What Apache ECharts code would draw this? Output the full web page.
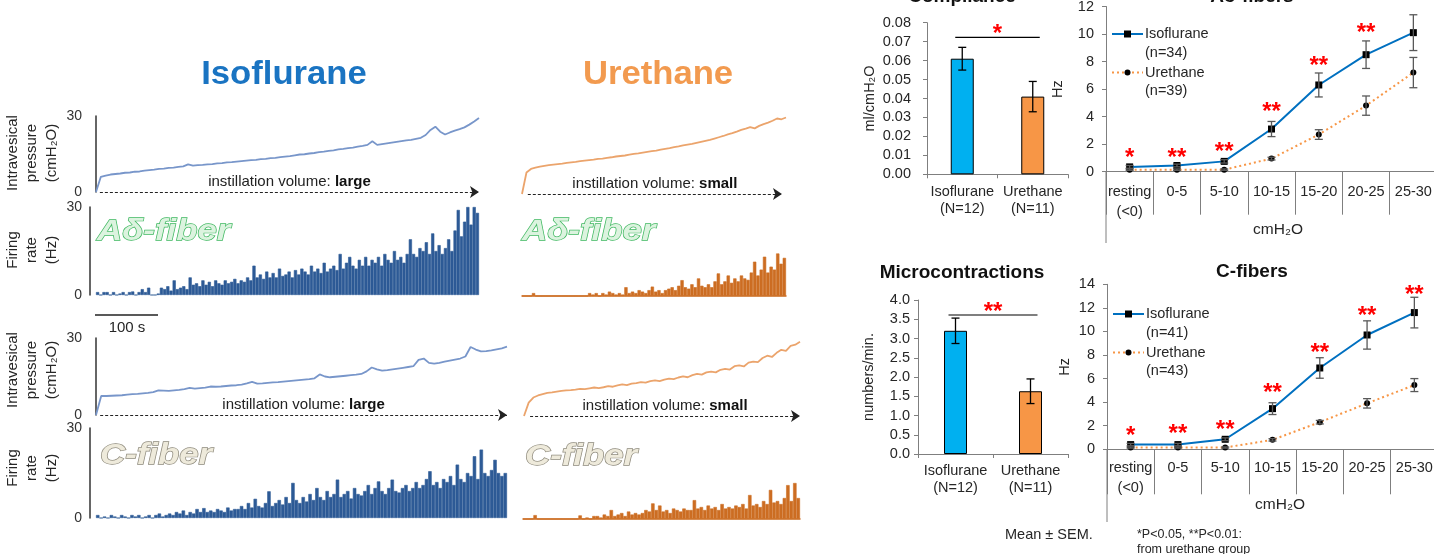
<!DOCTYPE html>
<html><head><meta charset="utf-8">
<script src="https://cdn.jsdelivr.net/npm/echarts@6/dist/echarts.min.js"></script>
<style>html,body{margin:0;padding:0;background:#fff;}#c{width:1434px;height:554px;}</style>
</head><body><div id="c"></div>
<script>
// ================= DATA =================
const isoAdPressure = [0,6.0,6.5,6.9,7.1,7.3,7.6,7.7,8.0,8.1,
 8.4,8.6,8.8,9.1,9.2,9.5,9.6,9.9,10.1,10.9,
 10.4,10.6,10.7,10.9,11.0,11.3,11.4,11.7,11.8,12.0,
 12.2,12.4,12.6,12.7,13.0,13.1,13.4,13.5,13.8,14.0,
 14.2,14.5,14.8,14.9,15.2,15.4,15.7,15.9,16.2,16.4,
 16.8,17.0,17.3,17.5,17.9,18.2,18.6,20.0,18.6,18.9,
 19.2,19.5,19.8,20.1,20.4,20.6,21.0,21.4,22.5,24.5,
 25.8,23.8,22.7,23.5,24.2,24.8,25.5,26.6,27.8,29.2];
const isoAdFiring = [1,0,1,1,0,1,0,0.5,1,0,1,1.2,0,1,2,1,2.5,
 0,0,0.5,
 2.5,2,3,1.5,5,2,2.5,3,2,
 6,3.5,4,3,5,3.5,4.5,3,5,4,3.5,5,4,4.5,5.5,4,5,4.5,6,5,
 10,6,7,5.5,8,6,7.5,6,9,6.5,7,8,6,8.5,7,9,
 8,7,10,8,9,7.5,11,8,9,10,8.5,14,9,11,13,10,9,12,10,13,
 10,12,11,13,10,14,12,11,15,12,13,11,14,19,
 14,13,16,15,18,14,21,15,17,14,16,19,15,
 22,29,20,25,30,24,30,28];
const uretAdPressure = [0,8.5,9.9,10.4,10.8,11.1,11.4,11.6,11.8,12.0,
 12.3,12.5,12.7,13.0,13.2,13.4,13.6,13.9,14.0,14.3,
 14.5,14.8,15.0,15.2,15.5,15.8,16.0,16.3,16.6,16.9,
 17.1,17.5,17.8,18.1,18.5,18.8,19.2,19.5,19.8,20.2,
 20.6,21.0,21.4,21.9,22.4,22.9,23.5,24.0,24.6,25.3,
 25.8,26.4,25.9,26.9,27.6,28.2,28.9,29.8,29.5,30.2];
const uretAdFiring = [0,0,0,1,
 0,0,0,0,0,0,0,0,0,0,0,0,0,0,0,0,
 1,0.5,1,0,1,
 0.5,1.5,1,0.5,1,0.5,3,
 1,1.5,1,2,1.5,1,2,3.2,1.5,2,1,2,
 2.5,3,2,3.5,5.4,3,2.5,4,3,6,3.5,3,4,3,
 5,7.7,4,5,7,4.5,6,5,
 7,6,5.5,8,11.7,7,9,13.4,8,10,9,14.5,11,13];
const isoCPressure = [0,7.4,7.4,7.5,7.6,7.7,7.9,8.1,8.2,8.4,
 8.6,8.9,9.6,9.5,9.4,9.6,9.8,10.1,10.6,10.3,
 10.5,10.7,11.1,11.0,11.1,11.3,11.5,11.6,11.8,12.3,
 12.9,12.2,12.3,12.5,12.7,12.8,13.0,13.2,13.4,13.6,
 13.8,14.0,14.3,15.8,15.0,14.7,14.9,15.1,15.3,15.5,
 15.7,16.0,17.0,18.5,17.8,17.3,17.5,17.8,18.1,18.4,
 18.7,19.0,21.5,22.0,20.3,20.0,20.3,20.8,21.2,21.6,
 22.0,22.8,26.5,25.5,24.8,24.9,25.2,25.6,26.0,26.6];
const isoCFiring = [1,0,0.5,0,1,0.5,0,1,0.5,0,1,0.5,1,0,0.5,1,0,1,1.5,0.5,1,
 1.5,1,2,1.5,2.5,1,2,1.5,3,2,3.3,2,2.5,2,3,2.5,2,3.5,2.5,3,
 3,4,3,5,3.5,6.4,4,3.5,5,8.9,
 4,5,6,4.5,7,5,11.7,6,5,7,5.5,8,6,10,7,6,9,7,8,
 12.8,7,8,9,6.5,10,8,7.5,9,11,8,10,12.2,9,8,10,12.8,9,8.5,10,11,9,10,12,10,11,13,
 15.6,11,12,10,13,12,14,11,17.8,13,12,15,14,20.6,13,22.8,15,14,16,19.4,15,14,15];
const uretCPressure = [0,5.2,7.2,8.0,8.5,9.0,9.2,9.5,9.8,10.0,
 10.1,10.3,10.6,10.5,10.8,11.1,10.9,11.2,11.6,11.4,
 11.9,12.3,12.0,12.6,12.8,13.2,13.0,13.6,13.9,13.6,
 14.2,14.6,14.4,15.0,15.4,15.1,15.9,16.4,16.1,17.0,
 17.3,17.0,18.0,18.4,18.1,19.4,19.7,19.3,20.8,21.2,
 21.0,22.6,23.5,23.0,24.6,25.8,25.4,27.3,27.8,28.9];
const uretCFiring = [0,0,0,1.3,
 0,0,0,0,0,0,0,0,0,0,0,0,
 1.2,0,0.5,0,1,
 1,0.5,1.5,1,3,1,1.5,2,1,2.5,1.5,2,1.5,
 2,3,2.5,5.2,3,4.5,2.5,3,2,3.5,3,2.5,3.5,3,
 3,6.3,3.5,4,3,4.5,3.5,4,3,5,3.5,4,3.5,4.5,
 4,5,3.5,8,4.5,5,4,6,5,9.7,5.5,6,5,7,11.3,6,12,7];

const groupLabels = ['Isoflurane\n(N=12)', 'Urethane\n(N=11)'];
const complianceMean = [0.061, 0.041];
const complianceSem = [0.006, 0.008];
const complianceSigY = 0.0723;
const microMean = [3.2, 1.63];
const microSem = [0.33, 0.32];
const microSigY = 3.61;

const pressureBins = ['resting\n(<0)', '0-5', '5-10', '10-15', '15-20', '20-25', '25-30'];
const adIsoMean = [0.35, 0.45, 0.75, 3.1, 6.3, 8.5, 10.1];
const adIsoSem  = [0.1, 0.1, 0.12, 0.55, 0.87, 1.0, 1.3];
const adUreMean = [0.15, 0.15, 0.15, 0.95, 2.7, 4.8, 7.2];
const adUreSem  = [0.05, 0.05, 0.05, 0.1, 0.35, 0.7, 1.1];
const adStars   = ['*', '**', '**', '**', '**', '**', ''];
const adStarY   = [1.36, 1.36, 1.8, 4.7, 8.04, 10.4, 0];
const cIsoMean  = [0.4, 0.4, 0.85, 3.45, 6.9, 9.7, 11.6];
const cIsoSem   = [0.1, 0.1, 0.12, 0.5, 0.87, 1.2, 1.3];
const cUreMean  = [0.15, 0.15, 0.15, 0.8, 2.3, 3.9, 5.45];
const cUreSem   = [0.05, 0.05, 0.05, 0.1, 0.15, 0.4, 0.55];
const cStars    = ['*', '**', '**', '**', '**', '**', '**'];
const cStarY    = [1.55, 1.72, 2.0, 5.17, 8.57, 11.67, 13.5];

// ================= STYLE =================
const FONT = '"Liberation Sans", Arial, sans-serif';
const AX = '#7f7f7f', TXT = '#262626';
const ISO_TRACE = '#7896ca', ISO_BAR = '#2d5a96';
const URE_TRACE = '#eba46c', URE_BAR = '#cc6d22';
const barColors = ['#00b0f0', '#f79646'];

const grids = [], xAxes = [], yAxes = [], series = [];
function addGrid(g) { grids.push(Object.assign({containLabel: false, outerBoundsMode: 'none'}, g)); return grids.length - 1; }

function pressurePanel(box, data, color, showAxis, word, a0, a1) {
  const gi = addGrid(box);
  xAxes.push({gridIndex: gi, type: 'value', min: 0, max: data.length - 1, show: false});
  yAxes.push({gridIndex: gi, type: 'value', min: 0, max: 30, interval: 30, show: showAxis, offset: 6,
    axisLine: {show: true, lineStyle: {color: '#333', width: 1.5}}, axisTick: {show: false}, splitLine: {show: false},
    axisLabel: {fontSize: 14, color: '#333', fontFamily: FONT, margin: 8}});
  series.push({type: 'line', xAxisIndex: gi, yAxisIndex: gi, data: data.map((v, i) => [i, v]),
    showSymbol: false, symbol: 'none', clip: false, silent: true, z: 2,
    lineStyle: {color: color, width: 1.8},
    markLine: {silent: true, symbol: ['none', 'arrow'], symbolSize: 9, animation: false,
      lineStyle: {type: [3, 2], color: '#222', width: 1.1},
      label: {show: true, position: 'middle', distance: 3,
        formatter: '{n|instillation volume: }{b|' + word + '}',
        rich: {n: {fontSize: 15, color: '#222', fontFamily: FONT},
               b: {fontSize: 15, fontWeight: 'bold', color: '#111', fontFamily: FONT}}},
      emphasis: {disabled: true},
      data: [[{coord: [a0, 0]}, {coord: [a1, 0]}]]}});
}
function firingPanel(box, data, color, showAxis, baseline) {
  const gi = addGrid(box);
  xAxes.push({gridIndex: gi, type: 'category', data: data.map((_, i) => i), boundaryGap: true, show: baseline,
    axisLine: {show: baseline, lineStyle: {color: color, width: 1.5}}, axisTick: {show: false}, axisLabel: {show: false}});
  yAxes.push({gridIndex: gi, type: 'value', min: 0, max: 30, interval: 30, show: showAxis, offset: 6,
    axisLine: {show: true, lineStyle: {color: '#333', width: 1.5}}, axisTick: {show: false}, splitLine: {show: false},
    axisLabel: {fontSize: 14, color: '#333', fontFamily: FONT, margin: 8}});
  series.push({type: 'bar', xAxisIndex: gi, yAxisIndex: gi, data: data, silent: true,
    itemStyle: {color: color, borderColor: color, borderWidth: 0.6}, barCategoryGap: '0%'});
}
function errSeries(gi, means, sems, color, capW) {
  return {type: 'custom', xAxisIndex: gi, yAxisIndex: gi, z: 6, silent: true,
    data: means.map((m, i) => [i, m - sems[i], m + sems[i]]),
    renderItem: (p, api) => {
      const lo = api.coord([api.value(0), api.value(1)]);
      const hi = api.coord([api.value(0), api.value(2)]);
      const h = capW / 2, st = {stroke: color, lineWidth: 1.3};
      return {type: 'group', children: [
        {type: 'line', shape: {x1: lo[0], y1: lo[1], x2: hi[0], y2: hi[1]}, style: st},
        {type: 'line', shape: {x1: lo[0] - h, y1: lo[1], x2: lo[0] + h, y2: lo[1]}, style: st},
        {type: 'line', shape: {x1: hi[0] - h, y1: hi[1], x2: hi[0] + h, y2: hi[1]}, style: st}]};
    }};
}
function starSeries(gi, stars, ys) {
  return {type: 'custom', xAxisIndex: gi, yAxisIndex: gi, z: 7, silent: true,
    data: ys.map((y, i) => [i, y]),
    renderItem: (p, api) => {
      const s = stars[p.dataIndex];
      if (!s) return null;
      const c = api.coord([api.value(0), api.value(1)]);
      return {type: 'text', style: {x: c[0], y: c[1] + 5, text: s, fill: '#ff0000', fontSize: 24, fontWeight: 'bold',
        fontFamily: FONT, align: 'center', verticalAlign: 'middle'}};
    }};
}
function sigSeries(gi, y, text) {
  return {type: 'custom', xAxisIndex: gi, yAxisIndex: gi, z: 7, silent: true, data: [[0, 1, y]],
    renderItem: (p, api) => {
      const a = api.coord([api.value(0), api.value(2)]);
      const b = api.coord([api.value(1), api.value(2)]);
      return {type: 'group', children: [
        {type: 'line', shape: {x1: a[0] - 7, y1: a[1], x2: b[0] + 7, y2: b[1]}, style: {stroke: '#000', lineWidth: 1.2}},
        {type: 'text', style: {x: (a[0] + b[0]) / 2, y: a[1] - 3, text: text, fill: '#ff0000', fontSize: 24,
          fontWeight: 'bold', fontFamily: FONT, align: 'center', verticalAlign: 'middle'}}]};
    }};
}
function barPanel(box, means, sems, yMax, yInt, dec, yName, nameGap, lblMargin, xMargin, sigY, sigText) {
  const gi = addGrid(box);
  xAxes.push({gridIndex: gi, type: 'category', data: groupLabels,
    axisLine: {lineStyle: {color: AX, width: 1}}, axisTick: {show: true, length: 4, lineStyle: {color: AX}},
    axisLabel: {interval: 0, fontSize: 14.5, lineHeight: 17, color: TXT, fontFamily: FONT, margin: xMargin}});
  yAxes.push({gridIndex: gi, type: 'value', min: 0, max: yMax, interval: yInt,
    axisLine: {show: true, lineStyle: {color: AX}}, axisTick: {show: true, length: 4, lineStyle: {color: AX}},
    splitLine: {show: false},
    axisLabel: {fontSize: 14.5, color: TXT, fontFamily: FONT, margin: lblMargin, formatter: v => v.toFixed(dec)},
    name: yName, nameLocation: 'middle', nameRotate: 90, nameGap: nameGap,
    nameTextStyle: {fontSize: 14.5, color: TXT, fontFamily: FONT}});
  series.push({type: 'bar', xAxisIndex: gi, yAxisIndex: gi, barWidth: 23, silent: true,
    data: means.map((m, i) => ({value: m, itemStyle: {color: barColors[i], borderColor: '#000', borderWidth: 1}}))});
  series.push(errSeries(gi, means, sems, '#000', 8));
  series.push(sigSeries(gi, sigY, sigText));
}
function linePanel(box, isoM, isoS, ureM, ureS, stars, starY, yMax, tickLen, nameGap, lblMargin) {
  const gi = addGrid(box);
  xAxes.push({gridIndex: gi, type: 'category', data: pressureBins, boundaryGap: true,
    axisLine: {lineStyle: {color: AX}}, axisTick: {show: true, length: tickLen, interval: 0, lineStyle: {color: AX}},
    axisLabel: {interval: 0, fontSize: 14.5, lineHeight: 20, color: TXT, fontFamily: FONT, margin: lblMargin}});
  yAxes.push({gridIndex: gi, type: 'value', min: 0, max: yMax, interval: 2,
    axisLine: {show: true, lineStyle: {color: AX}}, axisTick: {show: true, length: 4, lineStyle: {color: AX}},
    splitLine: {show: false}, axisLabel: {fontSize: 14.5, color: TXT, fontFamily: FONT, margin: 12},
    name: 'Hz', nameLocation: 'middle', nameRotate: 90, nameGap: nameGap,
    nameTextStyle: {fontSize: 14.5, color: TXT, fontFamily: FONT}});
  series.push({type: 'line', xAxisIndex: gi, yAxisIndex: gi, data: ureM, symbol: 'circle', symbolSize: 6, silent: true,
    itemStyle: {color: '#000'}, lineStyle: {color: '#f79646', width: 2, type: [2, 3]}, z: 3});
  series.push({type: 'line', xAxisIndex: gi, yAxisIndex: gi, data: isoM, symbol: 'rect', symbolSize: 7, silent: true,
    itemStyle: {color: '#000'}, lineStyle: {color: '#0070c0', width: 2}, z: 4});
  series.push(errSeries(gi, isoM, isoS, '#595959', 8));
  series.push(errSeries(gi, ureM, ureS, '#595959', 8));
  series.push(starSeries(gi, stars, starY));
}

// ---- left traces ----
pressurePanel({left: 96, top: 116, width: 383, height: 76}, isoAdPressure, ISO_TRACE, true, 'large', 0.8, 79);
firingPanel({left: 96, top: 207, width: 383, height: 88}, isoAdFiring, ISO_BAR, true, false);
pressurePanel({left: 522, top: 118, width: 264, height: 76}, uretAdPressure, URE_TRACE, false, 'small', 1.3, 58.1);
firingPanel({left: 522, top: 208, width: 264, height: 88}, uretAdFiring, URE_BAR, false, true);
pressurePanel({left: 96, top: 338, width: 411, height: 77}, isoCPressure, ISO_TRACE, true, 'large', 0.8, 79);
firingPanel({left: 96, top: 428, width: 411, height: 90}, isoCFiring, ISO_BAR, true, false);
pressurePanel({left: 524, top: 339, width: 276, height: 77}, uretCPressure, URE_TRACE, false, 'small', 1.3, 59);
firingPanel({left: 523, top: 429, width: 277, height: 90}, uretCFiring, URE_BAR, false, true);

// ---- right charts ----
barPanel({left: 927, top: 22.7, width: 141, height: 151.6}, complianceMean, complianceSem, 0.08, 0.01, 2,
  'ml/cmH₂O', 50, 16, 9, complianceSigY, '*');
barPanel({left: 918, top: 300, width: 150, height: 154}, microMean, microSem, 4, 0.5, 1,
  'numbers/min.', 42, 8, 8, microSigY, '**');
linePanel({left: 1106, top: 6.5, width: 331, height: 165.2}, adIsoMean, adIsoSem, adUreMean, adUreSem,
  adStars, adStarY, 12, 43, 41, 10);
linePanel({left: 1107, top: 284.3, width: 331, height: 165}, cIsoMean, cIsoSem, cUreMean, cUreSem,
  cStars, cStarY, 14, 45, 35, 9);

// ---- graphic annotations ----
function txt(t, x, y, o) {
  o = o || {};
  return {type: 'text', x: x, y: y, rotation: o.rot || 0, scaleX: o.sx || 1, silent: true, z: 20,
    style: Object.assign({text: t, fill: TXT, fontSize: 15, fontFamily: FONT, align: 'center', verticalAlign: 'middle'}, o.style || {})};
}
function legend(x, y, nIso, nUre) {
  const st = {align: 'left', fontSize: 14.5};
  return [
    {type: 'line', shape: {x1: x, y1: y, x2: x + 31, y2: y}, style: {stroke: '#0070c0', lineWidth: 2}, z: 20},
    {type: 'rect', shape: {x: x + 12, y: y - 3.5, width: 7, height: 7}, style: {fill: '#000'}, z: 21},
    txt('Isoflurane', x + 33, y, {style: st}),
    txt(nIso, x + 33, y + 19, {style: st}),
    {type: 'line', shape: {x1: x, y1: y + 38.5, x2: x + 31, y2: y + 38.5}, style: {stroke: '#f79646', lineWidth: 2, lineDash: [2, 3]}, z: 20},
    {type: 'circle', shape: {cx: x + 15.5, cy: y + 38.5, r: 3}, style: {fill: '#000'}, z: 21},
    txt('Urethane', x + 33, y + 38.5, {style: st}),
    txt(nUre, x + 33, y + 57, {style: st})
  ];
}
const titleShadow = {fontSize: 33, fontWeight: 'bold', shadowColor: 'rgba(0,0,0,0.35)', shadowBlur: 3, shadowOffsetX: 2, shadowOffsetY: 2};
const greenFiber = {fontSize: 29, fontWeight: 'bold', fontStyle: 'italic', fill: '#dcf3df', stroke: '#3fb860', lineWidth: 1.3,
  align: 'left', shadowColor: 'rgba(60,180,90,0.45)', shadowBlur: 4};
const beigeFiber = {fontSize: 29, fontWeight: 'bold', fontStyle: 'italic', fill: '#eeeadb', stroke: '#8e8a7c', lineWidth: 1.3,
  align: 'left', shadowColor: 'rgba(0,0,0,0.4)', shadowBlur: 3, shadowOffsetX: 1, shadowOffsetY: 1};
const rightTitle = {fontSize: 19, fontWeight: 'bold', fill: '#111'};
const rot = Math.PI / 2, sideLbl = {lineHeight: 19.5, fontSize: 15};

const graphics = [
  txt('Isoflurane', 284, 75, {sx: 1.05, style: Object.assign({fill: '#1a74c2'}, titleShadow)}),
  txt('Urethane', 658, 75, {sx: 1.05, style: Object.assign({fill: '#f29a4f'}, titleShadow)}),
  txt('Intravesical\npressure\n(cmH₂O)', 32, 153, {rot: rot, style: sideLbl}),
  txt('Firing\nrate\n(Hz)', 32, 250, {rot: rot, style: sideLbl}),
  txt('Intravesical\npressure\n(cmH₂O)', 32, 370, {rot: rot, style: sideLbl}),
  txt('Firing\nrate\n(Hz)', 32, 468, {rot: rot, style: sideLbl}),
  txt('Aδ-fiber', 97, 232, {sx: 1.2, style: greenFiber}),
  txt('Aδ-fiber', 522, 232, {sx: 1.2, style: greenFiber}),
  txt('C-fiber', 100, 456, {sx: 1.2, style: beigeFiber}),
  txt('C-fiber', 525, 457, {sx: 1.2, style: beigeFiber}),
  {type: 'line', shape: {x1: 95, y1: 315, x2: 158, y2: 315}, style: {stroke: '#222', lineWidth: 1.5}, z: 20},
  txt('100 s', 127, 328, {style: {fontSize: 15}}),
  txt('Compliance', 962, -3.5, {style: rightTitle}),
  txt('Aδ-fibers', 1252, -3.5, {style: rightTitle}),
  txt('Microcontractions', 962, 273, {style: rightTitle}),
  txt('C-fibers', 1252, 272, {style: rightTitle}),
  txt('cmH₂O', 1278, 230, {style: {fontSize: 15.5}}),
  txt('cmH₂O', 1280, 505, {style: {fontSize: 15.5}}),
  {type: 'line', shape: {x1: 1106, y1: 171.7, x2: 1106, y2: 243}, style: {stroke: AX, lineWidth: 1}, z: 20},
  {type: 'line', shape: {x1: 1107, y1: 449.3, x2: 1107, y2: 522}, style: {stroke: AX, lineWidth: 1}, z: 20},
  txt('Mean ± SEM.', 1005, 535, {style: {align: 'left', fontSize: 14.5}}),
  txt('*P<0.05, **P<0.01:', 1137, 535, {style: {align: 'left', fontSize: 12.5}}),
  txt('from urethane group', 1137, 550, {style: {align: 'left', fontSize: 12.5}})
].concat(legend(1112, 34, '(n=34)', '(n=39)'))
 .concat(legend(1113, 314, '(n=41)', '(n=43)'));

const chart = echarts.init(document.getElementById('c'), null, {renderer: 'canvas'});
chart.setOption({
  animation: false,
  backgroundColor: '#ffffff',
  grid: grids, xAxis: xAxes, yAxis: yAxes, series: series,
  graphic: graphics
});
</script></body></html>
